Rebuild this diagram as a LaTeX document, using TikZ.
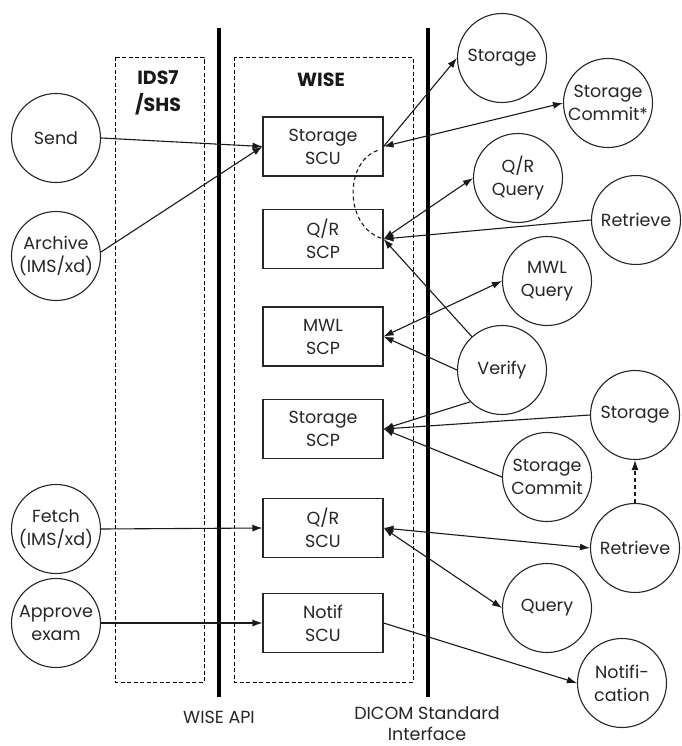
\documentclass[tikz,border=0pt]{standalone}
\usepackage{fontspec}
\setmainfont{Poppins}
\usetikzlibrary{arrows.meta,calc}
\begin{document}
\begin{tikzpicture}[x=1pt,y=-1pt,
  txt/.style={text=black!85,font=\fontsize{17.5}{23}\selectfont},
  circ/.style={txt,draw=black!85,circle,line width=1.1pt,minimum size=89pt,inner sep=0pt,align=center},
  box/.style={txt,draw=black!85,rectangle,line width=1.1pt,minimum width=120pt,minimum height=59pt,inner sep=0pt,align=center},
  zone/.style={draw=black,line width=0.9pt,dash pattern=on 4pt off 2.5pt},
  api/.style={line width=3.6pt,black},
  conn/.style={draw=black!90,line width=1.1pt},
  tip/.style={conn,-{Latex[length=10pt,width=7pt]}},
  tips/.style={conn,{Latex[length=10pt,width=7pt]}-{Latex[length=10pt,width=7pt]}},
  bold/.style={text=black!90,font=\bfseries\fontsize{19}{27}\selectfont,align=center}
]
\fill[white] (0,0) rectangle (675,746);
% zones
\draw[zone] (115,57) rectangle (204,682);
\draw[zone] (234,57) rectangle (413,682);
\draw[api] (219,28) -- (219,697);
\draw[api] (428,28) -- (428,697);
\node[bold] (ids) at (158,93) {IDS7\\/SHS};
\node[bold] (wise) at (321,80) {WISE};
\node[txt] (wapi) at (219,717) {WISE API};
\node[txt,align=center,font=\fontsize{17.5}{21}\selectfont] (dicom) at (427,724) {DICOM Standard\\Interface};
% boxes
\node[box] (ssu) at (323,146.5) {Storage\\SCU};
\node[box] (qrscp) at (323,239) {Q/R\\SCP};
\node[box] (mwlscp) at (323,336.5) {MWL\\SCP};
\node[box] (sscp) at (323,429) {Storage\\SCP};
\node[box] (qrscu) at (323,528) {Q/R\\SCU};
\node[box] (nscu) at (323,623) {Notif\\SCU};
% left circles
\node[circ] (send) at (56,138) {Send};
\node[circ] (archive) at (56,256) {Archive\\(IMS/xd)};
\node[circ] (fetch) at (56,529) {Fetch\\(IMS/xd)};
\node[circ] (approve) at (56,623) {Approve\\exam};
% right circles
\node[circ] (storA) at (502,58) {Storage};
\node[circ] (stcommitA) at (608,103) {Storage\\Commit*};
\node[circ] (qrquery) at (518,178) {Q/R\\Query};
\node[circ] (retrA) at (636,220) {Retrieve};
\node[circ] (mwlquery) at (547,281) {MWL\\Query};
\node[circ] (verify) at (502,370) {Verify};
\node[circ] (storB) at (635,415) {Storage};
\node[circ] (stcommitB) at (547,477) {Storage\\Commit};
\node[circ] (retrB) at (635,548) {Retrieve};
\node[circ] (query) at (547,608) {Query};
\node[circ] (notif) at (622,683) {Notifi-\\cation};
% connectors
\draw[tip] (send.east) -- (ssu.west);
\draw[tip] (archive.5) -- (ssu.west);
\draw[tip] (ssu.east) -- (storA.west);
\draw[tips] (ssu.east) -- (stcommitA.west);
\draw[conn,dash pattern=on 4pt off 3pt] ($(ssu.east)+(-6,4)$) .. controls (344,162) and (344,228) .. (qrscp.east);
\draw[tips] (qrscp.east) -- (qrquery.west);
\draw[tip] (retrA.west) -- (qrscp.east);
\draw[tip] (verify) -- (qrscp.east);
\draw[tips] (mwlscp.east) -- (mwlquery.west);
\draw[tip] (verify.west) -- (mwlscp.east);
\draw[tip] (verify.225) -- (sscp.east);
\draw[tip] (storB.west) -- (sscp.east);
\draw[tip] (stcommitB.west) -- (sscp.east);
\draw[tip,dash pattern=on 4pt off 3pt] (retrB.north) -- (storB.south);
\draw[tip] (fetch.east) -- (qrscu.west);
\draw[tips] (qrscu.east) -- (retrB.west);
\draw[tips] (qrscu.east) -- (query.west);
\draw[tip] (approve.east) -- (nscu.west);
\draw[tip] (nscu.east) -- (notif.west);
\end{tikzpicture}
\end{document}
